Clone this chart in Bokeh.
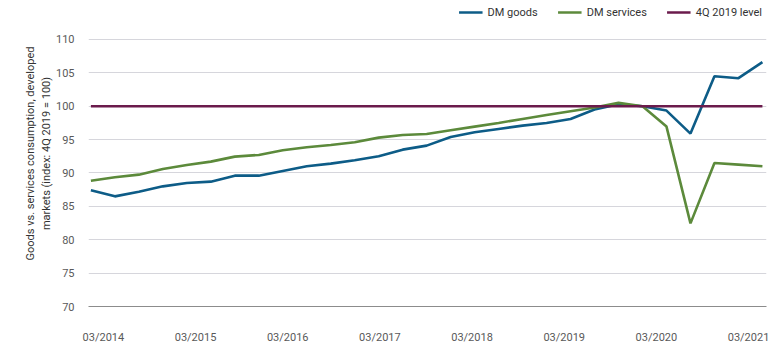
from bokeh.plotting import figure
from bokeh.models import ColumnDataSource, Legend, LegendItem, FixedTicker, Range1d
from bokeh.embed import file_html
from bokeh.resources import INLINE

# ---- data (quarterly, 03/2014 .. 03/2021) ----
quarters = [f"{m:02d}/{y}" for y in range(2014, 2022) for m in (3, 6, 9, 12)][:29]
dm_goods = [87.4, 86.5, 87.2, 88.0, 88.5, 88.7, 89.6, 89.6, 90.3, 91.0,
            91.4, 91.9, 92.5, 93.5, 94.1, 95.4, 96.1, 96.6, 97.1, 97.5,
            98.1, 99.5, 100.3, 100.0, 99.35, 95.9, 104.5, 104.2, 106.6]
dm_services = [88.85, 89.35, 89.75, 90.6, 91.2, 91.7, 92.45, 92.7, 93.4, 93.85,
               94.2, 94.6, 95.3, 95.7, 95.85, 96.4, 96.95, 97.5, 98.1, 98.7,
               99.25, 99.8, 100.5, 100.0, 96.95, 82.45, 91.5, 91.25, 91.0]
level_4q2019 = [100.0] * 29
tick_labels = ["03/2014", "03/2015", "03/2016", "03/2017",
               "03/2018", "03/2019", "03/2020", "03/2021"]
y_ticks = [70, 75, 80, 85, 90, 95, 100, 105, 110]

FONT = "Roboto"
idx = list(range(len(quarters)))
src = ColumnDataSource(dict(x=idx, goods=dm_goods, services=dm_services, level=level_4q2019))

# frame spans the full height above the x axis; headroom above 110 holds the legend
p = figure(width=772, height=353, output_backend="svg", toolbar_location=None,
           x_range=Range1d(-0.1, 28.17), y_range=Range1d(70, 115.84),
           min_border_left=88, min_border_right=6, min_border_top=0, min_border_bottom=47)
p.outline_line_color = None
p.background_fill_color = "white"

r_g = p.line("x", "goods", source=src, line_color="#0d5c87", line_width=2.6)
r_s = p.line("x", "services", source=src, line_color="#5c8a3b", line_width=2.6)
r_l = p.line("x", "level", source=src, line_color="#6b1b4c", line_width=2.6)

# x axis
tick_pos = [0.52 + 3.843 * k for k in range(len(tick_labels))]
p.xaxis.ticker = FixedTicker(ticks=tick_pos)
p.xaxis.major_label_overrides = {t: lab for t, lab in zip(tick_pos, tick_labels)}
p.xaxis.axis_line_color = "#8c8c8c"
p.xaxis.axis_line_width = 1
p.xaxis.major_tick_line_color = None
p.xaxis.minor_tick_line_color = None
p.xaxis.major_label_standoff = 18
p.xaxis.major_label_text_font = FONT
p.xaxis.major_label_text_font_size = "11px"
p.xaxis.major_label_text_color = "#595959"
p.xgrid.grid_line_color = None

# y axis
p.yaxis.ticker = FixedTicker(ticks=y_ticks)
p.yaxis.axis_line_color = None
p.yaxis.major_tick_line_color = None
p.yaxis.minor_tick_line_color = None
p.yaxis.major_label_standoff = 8
p.yaxis.major_label_text_font = FONT
p.yaxis.major_label_text_font_size = "11px"
p.yaxis.major_label_text_color = "#595959"
p.yaxis.axis_label = "Goods vs. services consumption, developed\nmarkets (index: 4Q 2019 = 100)"
p.yaxis.axis_label_text_font = FONT
p.yaxis.axis_label_text_font_size = "11px"
p.yaxis.axis_label_text_font_style = "normal"
p.yaxis.axis_label_text_color = "#333333"
p.yaxis.axis_label_standoff = 0
p.ygrid.grid_line_color = "#d6d6dc"
p.ygrid.grid_line_width = 1

legend = Legend(items=[LegendItem(label="DM goods", renderers=[r_g]),
                       LegendItem(label="DM services", renderers=[r_s]),
                       LegendItem(label="4Q 2019 level", renderers=[r_l])],
                orientation="horizontal", location="top_right",
                glyph_width=24, glyph_height=16, label_standoff=5, spacing=20,
                padding=0, margin=4, border_line_color=None, background_fill_alpha=0,
                label_text_font=FONT, label_text_font_size="11px", label_text_color="#333333")
p.add_layout(legend, "center")

open("out.html", "w").write(file_html(p, INLINE))
